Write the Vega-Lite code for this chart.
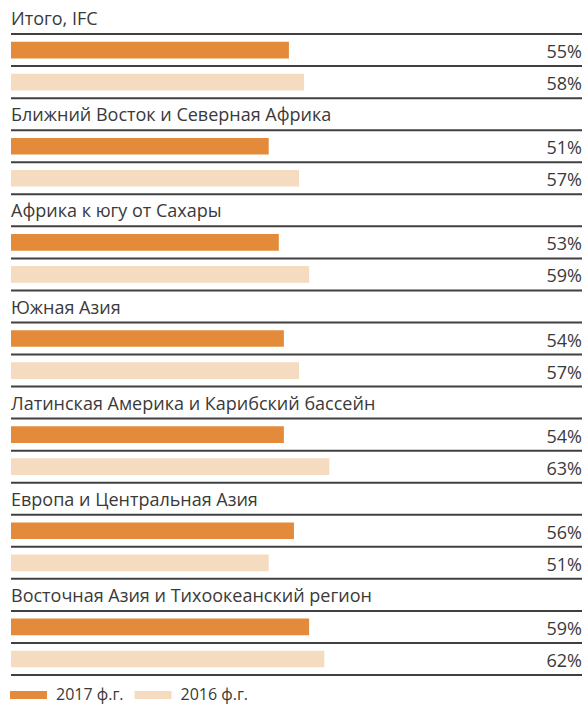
{
  "$schema": "https://vega.github.io/schema/vega-lite/v6.json",
  "width": 571,
  "height": 673,
  "autosize": {"type": "none"},
  "padding": {"left": 11, "top": 2, "right": 0, "bottom": 30},
  "background": "white",
  "config": {
    "view": {"stroke": null},
    "font": "Open Sans",
    "text": {"font": "Open Sans", "fontSize": 18, "color": "#3a3a3a"}
  },
  "datasets": {
    "bars": [
      {"region": "Итого, IFC", "year": "2017 ф.г.", "value": 0.55, "slot": "Итого, IFC | 2017"},
      {"region": "Итого, IFC", "year": "2016 ф.г.", "value": 0.58, "slot": "Итого, IFC | 2016"},
      {"region": "Ближний Восток и Северная Африка", "year": "2017 ф.г.", "value": 0.51, "slot": "Ближний Восток и Северная Африка | 2017"},
      {"region": "Ближний Восток и Северная Африка", "year": "2016 ф.г.", "value": 0.57, "slot": "Ближний Восток и Северная Африка | 2016"},
      {"region": "Африка к югу от Сахары", "year": "2017 ф.г.", "value": 0.53, "slot": "Африка к югу от Сахары | 2017"},
      {"region": "Африка к югу от Сахары", "year": "2016 ф.г.", "value": 0.59, "slot": "Африка к югу от Сахары | 2016"},
      {"region": "Южная Азия", "year": "2017 ф.г.", "value": 0.54, "slot": "Южная Азия | 2017"},
      {"region": "Южная Азия", "year": "2016 ф.г.", "value": 0.57, "slot": "Южная Азия | 2016"},
      {"region": "Латинская Америка и Карибский бассейн", "year": "2017 ф.г.", "value": 0.54, "slot": "Латинская Америка и Карибский бассейн | 2017"},
      {"region": "Латинская Америка и Карибский бассейн", "year": "2016 ф.г.", "value": 0.63, "slot": "Латинская Америка и Карибский бассейн | 2016"},
      {"region": "Европа и Центральная Азия", "year": "2017 ф.г.", "value": 0.56, "slot": "Европа и Центральная Азия | 2017"},
      {"region": "Европа и Центральная Азия", "year": "2016 ф.г.", "value": 0.51, "slot": "Европа и Центральная Азия | 2016"},
      {"region": "Восточная Азия и Тихоокеанский регион", "year": "2017 ф.г.", "value": 0.59, "slot": "Восточная Азия и Тихоокеанский регион | 2017"},
      {"region": "Восточная Азия и Тихоокеанский регион", "year": "2016 ф.г.", "value": 0.62, "slot": "Восточная Азия и Тихоокеанский регион | 2016"}
    ],
    "titles": [
      {"region": "Итого, IFC", "slot": "Итого, IFC"},
      {"region": "Ближний Восток и Северная Африка", "slot": "Ближний Восток и Северная Африка"},
      {"region": "Африка к югу от Сахары", "slot": "Африка к югу от Сахары"},
      {"region": "Южная Азия", "slot": "Южная Азия"},
      {"region": "Латинская Америка и Карибский бассейн", "slot": "Латинская Америка и Карибский бассейн"},
      {"region": "Европа и Центральная Азия", "slot": "Европа и Центральная Азия"},
      {"region": "Восточная Азия и Тихоокеанский регион", "slot": "Восточная Азия и Тихоокеанский регион"}
    ]
  },
  "resolve": {"scale": {"y": "shared", "x": "shared"}},
  "layer": [
    {
      "data": {"name": "bars"},
      "mark": {"type": "bar", "height": {"band": 0.52}},
      "encoding": {
        "y": {"field": "slot", "type": "nominal", "axis": null,
          "scale": {"paddingInner": 0, "paddingOuter": 0, "domain": [
            "Итого, IFC", "Итого, IFC | 2017", "Итого, IFC | 2016",
            "Ближний Восток и Северная Африка", "Ближний Восток и Северная Африка | 2017", "Ближний Восток и Северная Африка | 2016",
            "Африка к югу от Сахары", "Африка к югу от Сахары | 2017", "Африка к югу от Сахары | 2016",
            "Южная Азия", "Южная Азия | 2017", "Южная Азия | 2016",
            "Латинская Америка и Карибский бассейн", "Латинская Америка и Карибский бассейн | 2017", "Латинская Америка и Карибский бассейн | 2016",
            "Европа и Центральная Азия", "Европа и Центральная Азия | 2017", "Европа и Центральная Азия | 2016",
            "Восточная Азия и Тихоокеанский регион", "Восточная Азия и Тихоокеанский регион | 2017", "Восточная Азия и Тихоокеанский регион | 2016"
          ]}},
        "x": {"field": "value", "type": "quantitative", "axis": null, "scale": {"domain": [0, 1.13], "nice": false, "zero": true}},
        "color": {"field": "year", "type": "nominal",
          "scale": {"domain": ["2017 ф.г.", "2016 ф.г."], "range": ["#E38B3B", "#F5DBC0"]},
          "legend": {
            "title": null, "orient": "none", "legendX": 9.5, "legendY": 685,
            "direction": "horizontal", "padding": 0,
            "symbolType": "M-4.625,-1H4.625V1H-4.625Z", "symbolSize": 64, "symbolStrokeWidth": 0,
            "labelFont": "Open Sans", "labelFontSize": 16, "labelColor": "#3a3a3a",
            "labelOffset": 19.5, "columnPadding": 10.5
          }}
      }
    },
    {
      "data": {"name": "bars"},
      "mark": {"type": "rule", "stroke": "#404040", "strokeWidth": 2},
      "encoding": {"y": {"field": "slot", "type": "nominal", "bandPosition": 0}}
    },
    {
      "data": {"name": "bars"},
      "transform": [{"filter": "datum.year === '2016 ф.г.'"}],
      "mark": {"type": "rule", "stroke": "#404040", "strokeWidth": 2},
      "encoding": {"y": {"field": "slot", "type": "nominal", "bandPosition": 1}}
    },
    {
      "data": {"name": "bars"},
      "mark": {"type": "text", "align": "right", "baseline": "alphabetic", "dx": 0},
      "encoding": {
        "y": {"field": "slot", "type": "nominal", "bandPosition": 0.75},
        "x": {"datum": 1.13},
        "text": {"field": "value", "type": "quantitative", "format": ".0%"}
      }
    },
    {
      "data": {"name": "titles"},
      "mark": {"type": "text", "align": "left", "baseline": "alphabetic"},
      "encoding": {
        "y": {"field": "slot", "type": "nominal", "bandPosition": 0.72},
        "x": {"datum": 0},
        "text": {"field": "region", "type": "nominal"}
      }
    }
  ]
}
